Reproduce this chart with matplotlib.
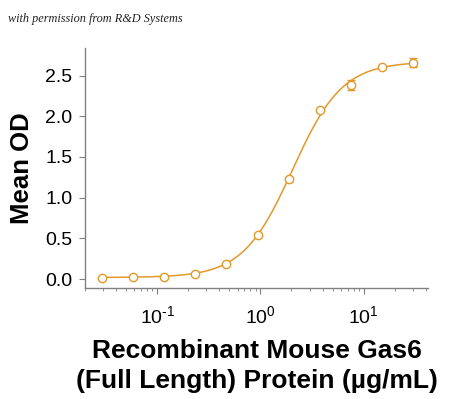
import numpy as np
import matplotlib
matplotlib.use("Agg")
import matplotlib.pyplot as plt
from matplotlib.ticker import LogLocator, FixedLocator

plt.rcParams["mathtext.fontset"] = "custom"
plt.rcParams["mathtext.rm"] = "Liberation Sans"
plt.rcParams["mathtext.it"] = "Liberation Sans:italic"
plt.rcParams["mathtext.bf"] = "Liberation Sans:bold"

conc = [0.0293, 0.0586, 0.117, 0.234, 0.469, 0.9375, 1.875, 3.75, 7.5, 15.0, 30.0]
od = [0.016, 0.02, 0.03, 0.065, 0.19, 0.545, 1.23, 2.08, 2.38, 2.61, 2.66]
od_err = [0.0, 0.0, 0.0, 0.0, 0.0, 0.015, 0.02, 0.0, 0.06, 0.01, 0.06]

# 4PL fit parameters
fit_bottom = 0.02
fit_top = 2.67
fit_ec50 = 2.05
fit_hill = 1.8

y_ticks = [0.0, 0.5, 1.0, 1.5, 2.0, 2.5]
y_tick_labels = ["0.0", "0.5", "1.0", "1.5", "2.0", "2.5"]
x_ticks = [0.1, 1, 10]
x_tick_labels = ["$\\mathrm{10^{\\text{-}1}}$", "$\\mathrm{10^{0}}$", "$\\mathrm{10^{1}}$"]

color = "#E2992A"

fig = plt.figure(figsize=(4.5, 3.99), dpi=100)
ax = fig.add_axes([0.189, 0.278, 0.762, 0.602])

xs = np.logspace(np.log10(conc[0]), np.log10(conc[-1]), 300)
ys = fit_bottom + (fit_top - fit_bottom) / (1 + (fit_ec50 / xs) ** fit_hill)
ax.plot(xs, ys, color=color, lw=1.1, zorder=2)
ax.errorbar(conc, od, yerr=od_err, fmt="o", mfc="white", mec=color, ecolor=color,
            ms=6, mew=1.0, elinewidth=1.0, capsize=3, capthick=1.0, zorder=3)

ax.set_xscale("log")
ax.set_xlim(0.02, 42)
ax.set_ylim(-0.11, 2.84)
ax.set_yticks(y_ticks)
ax.set_yticklabels(y_tick_labels)
ax.xaxis.set_major_locator(FixedLocator(x_ticks))
ax.set_xticklabels(x_tick_labels)
ax.xaxis.set_minor_locator(LogLocator(base=10, subs=np.arange(2, 10)))

for s in ["top", "right"]:
    ax.spines[s].set_visible(False)
for s in ["left", "bottom"]:
    ax.spines[s].set_color("#808080")
    ax.spines[s].set_linewidth(1.0)

ax.tick_params(axis="both", which="both", colors="#808080", labelcolor="black",
               direction="out")
ax.tick_params(axis="y", length=4, labelsize=14, pad=5)
ax.tick_params(axis="x", which="major", length=4, labelsize=14, pad=8)
ax.tick_params(axis="x", which="minor", length=2.5)
for lab in ax.get_xticklabels() + ax.get_yticklabels():
    lab.set_family("Liberation Sans")

ax.set_ylabel("Mean OD", fontsize=18.5, fontweight="bold", family="Liberation Sans", labelpad=8)
ax.set_xlabel("Recombinant Mouse Gas6\n(Full Length) Protein (\u00b5g/mL)", fontsize=19,
              fontweight="bold", family="Liberation Sans", labelpad=9, linespacing=1.3)

fig.text(0.018, 0.946, "with permission from R&D Systems", fontsize=8.8, style="italic",
         family="Liberation Serif", color="#222222")

fig.savefig("out.png", dpi=100)
